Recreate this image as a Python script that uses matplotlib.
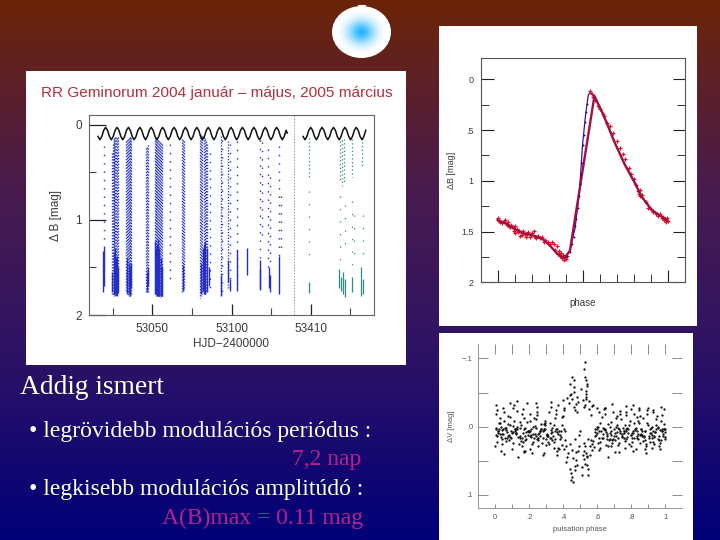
#!/usr/bin/env python3
'''RR Geminorum slide: three light curve panels on a gradient background'''
import numpy as np
import matplotlib
matplotlib.use("Agg")
import matplotlib.pyplot as plt
from matplotlib.colors import LinearSegmentedColormap
from matplotlib.patches import Ellipse, Rectangle
from matplotlib.ticker import FixedLocator, NullFormatter

W, H = 720, 540
SEASON_GAP = 260  # the 2005 part of the time axis is pulled next to 2004

# left panel: the fitted modulation wave, one list for each season
wave04_x = [53015.7, 53016.9, 53018.1, 53019.3, 53020.5, 53021.7, 53022.9, 53024.1, 53025.3, 53026.5,
            53027.7, 53028.9, 53030.1, 53031.3, 53032.5, 53033.7, 53034.9, 53036.1, 53037.3, 53038.5,
            53039.7, 53040.9, 53042.1, 53043.3, 53044.5, 53045.7, 53046.9, 53048.1, 53049.3, 53050.5,
            53051.7, 53052.9, 53054.1, 53055.3, 53056.5, 53057.7, 53058.9, 53060.1, 53061.3, 53062.5,
            53063.7, 53064.9, 53066.1, 53067.3, 53068.5, 53069.7, 53070.9, 53072.1, 53073.3, 53074.5,
            53075.7, 53076.9, 53078.1, 53079.3, 53080.5, 53081.7, 53082.9, 53084.1, 53085.3, 53086.5,
            53087.7, 53088.9, 53090.1, 53091.3, 53092.5, 53093.7, 53094.9, 53096.1, 53097.3, 53098.5,
            53099.7, 53100.9, 53102.1, 53103.3, 53104.5, 53105.7, 53106.9, 53108.1, 53109.3, 53110.5,
            53111.7, 53112.9, 53114.1, 53115.3, 53116.5, 53117.7, 53118.9, 53120.1, 53121.3, 53122.5,
            53123.7, 53124.9, 53126.1, 53127.3, 53128.5, 53129.7, 53130.9, 53132.1, 53133.3, 53134.5,
            53135.2]
wave04_y = [.125, .16, .125, .06, .03, .06, .125, .16, .125, .06,
            .03, .06, .125, .16, .125, .06, .03, .06, .125, .16,
            .125, .06, .03, .06, .125, .16, .125, .06, .03, .06,
            .125, .16, .125, .06, .03, .06, .125, .16, .125, .06,
            .03, .06, .125, .16, .125, .06, .03, .06, .125, .16,
            .125, .06, .03, .06, .125, .16, .125, .06, .03, .06,
            .125, .16, .125, .06, .03, .06, .125, .16, .125, .06,
            .03, .06, .125, .16, .125, .06, .03, .06, .125, .16,
            .125, .06, .03, .06, .125, .16, .125, .06, .03, .06,
            .125, .16, .125, .06, .03, .06, .125, .16, .125, .06,
            .09]
wave05_x = [53405.2, 53406.4, 53407.6, 53408.8, 53410.0, 53411.2, 53412.4, 53413.6, 53414.8, 53416.0,
            53417.2, 53418.4, 53419.6, 53420.8, 53422.0, 53423.2, 53424.4, 53425.6, 53426.8, 53428.0,
            53429.2, 53430.4, 53431.6, 53432.8, 53434.0, 53435.2, 53436.4, 53437.6, 53438.8, 53440.0,
            53441.2, 53442.4, 53443.6, 53444.8]
wave05_y = [.125, .16, .125, .06, .03, .06, .125, .16, .125, .06,
            .03, .06, .125, .16, .125, .06, .03, .06, .125, .16,
            .125, .06, .03, .06, .125, .16, .125, .06, .03, .06,
            .125, .16, .125, .06]

# left panel: nights of observation as vertical streaks of dots
dense04_x = [53024.6, 53025.1, 53025.6, 53026.1, 53026.6, 53027.1, 53027.6, 53028.3, 53033.5, 53034.1, 53034.6, 53035.2,
             53035.7, 53036.2, 53036.7, 53046.2, 53046.8, 53047.3, 53051.5, 53052.0, 53052.5, 53053.1, 53053.6, 53054.1,
             53054.6, 53055.4, 53056.1, 53069.0, 53069.5, 53070.0, 53080.0, 53080.8, 53081.6, 53082.4, 53083.1, 53083.8,
             53084.6, 53093.2, 53097.9]
dense04_top = [.30, .20, .15, .14, .13, .13, .14, .13, .17, .16, .15, .14, .13, .13, .14, .25, .24, .22, .13, .14, .14, .15,
               .16, .17, .18, .19, .20, .15, .16, .17, .10, .11, .12, .13, .15, .17, .20, .12, .17]
dense04_bot = [1.78, 1.79, 1.80, 1.80, 1.80, 1.79, 1.78, 1.78, 1.75, 1.78, 1.80, 1.80, 1.80, 1.79, 1.78, 1.76, 1.76, 1.76,
               1.78, 1.79, 1.80, 1.80, 1.80, 1.80, 1.81, 1.80, 1.80, 1.76, 1.75, 1.74, 1.82, 1.80, 1.78, 1.78, 1.78, 1.77,
               1.76, 1.80, 1.72]
sparse04_x = [53019.2, 53061.0, 53086.3, 53093.9, 53098.9, 53103.6, 53117.9, 53119.0, 53123.2, 53124.3, 53130.2, 53131.0]
sparse04_top = [.23, .20, .30, .16, .20, .17, .16, .18, .26, .55, .23, .75]
sparse04_bot = [1.25, 1.65, 1.75, 1.80, 1.72, 1.75, 1.40, 1.20, 1.50, 1.50, 1.40, 1.30]
solid04_x = [53018.9, 53019.5, 53024.8, 53025.5, 53026.2, 53026.8, 53027.5, 53028.0, 53033.8, 53034.2, 53035.0, 53035.7,
             53036.7, 53046.7, 53047.5, 53051.6, 53052.3, 53052.8, 53053.3, 53053.9, 53054.5, 53055.2, 53055.7, 53056.0,
             53069.4, 53080.6, 53081.0, 53082.0, 53082.8, 53083.0, 53084.4, 53085.6, 53093.2, 53098.0, 53099.2, 53103.6,
             53109.8, 53117.7, 53118.3, 53123.8, 53124.6, 53130.0]
solid04_top = [1.33, 1.28, 1.55, 1.35, 1.30, 1.40, 1.38, 1.50, 1.55, 1.40, 1.45, 1.50, 1.45, 1.55, 1.50, 1.22, 1.30, 1.25, 1.20,
               1.30, 1.35, 1.40, 1.45, 1.50, 1.48, 1.50, 1.45, 1.30, 1.25, 1.22, 1.30, 1.50, 1.58, 1.42, 1.62, 1.32,
               1.30, 1.42, 1.52, 1.50, 1.58, 1.38]
solid04_bot = [1.76, 1.70, 1.76, 1.78, 1.78, 1.79, 1.80, 1.76, 1.70, 1.78, 1.78, 1.80, 1.72, 1.76, 1.70, 1.78, 1.79, 1.80, 1.80,
               1.80, 1.80, 1.80, 1.80, 1.80, 1.75, 1.78, 1.76, 1.75, 1.78, 1.78, 1.76, 1.70, 1.80, 1.65, 1.75, 1.75,
               1.58, 1.74, 1.72, 1.72, 1.76, 1.78]
dense05_x = [53409.2, 53428.4, 53429.8, 53431.2, 53436.0, 53442.4]
dense05_top = [.14, .17, .16, .15, .15, .14]
dense05_bot = [.55, .58, .65, .60, .55, .45]
sparse05_x = [53409.2, 53428.8, 53431.8, 53436.0, 53437.2, 53442.8]
sparse05_top = [.70, .75, .85, .80, .95, .95]
sparse05_bot = [1.40, 1.45, 1.35, 1.50, 1.45, 1.40]
solid05_x = [53409.2, 53427.6, 53429.0, 53430.2, 53431.4, 53436.2, 53442.0, 53443.0]
solid05_top = [1.65, 1.52, 1.60, 1.55, 1.62, 1.60, 1.50, 1.62]
solid05_bot = [1.77, 1.72, 1.75, 1.78, 1.81, 1.76, 1.80, 1.78]

# middle panel: folded light curve
curve_phase = [0, .053, .102, .151, .2, .259, .308, .347, .392, .425, .455, .48, .5, .518, .533, .545,
               .569, .622, .69, .749, .808, .847, .906, .965, 1.0]
curve_mag = [1.386, 1.425, 1.478, 1.517, 1.534, 1.567, 1.639, 1.714, 1.764, 1.688, 1.468, 1.123, .63, .335, .154, .128,
             .164, .351, .63, .844, 1.025, 1.156, 1.287, 1.353, 1.396]
red_phase = [.002, .006, .015, .024, .036, .045, .052, .06, .064, .072, .081, .088, .094, .1, .104, .112, .118,
             .126, .13, .138, .145, .15, .158, .166, .172, .18, .188, .195, .204, .213, .22, .228, .236,
             .25, .262, .27, .28, .295, .31, .318, .33, .338, .346, .352, .358, .364, .37, .376, .382, .388, .394, .4, .41,
             .545, .552, .56, .575, .59, .6, .62, .625, .645, .66, .68, .7, .72, .735, .75, .77, .785, .8, .815,
             .825, .83, .835, .84, .85, .87, .885, .9, .915, .93, .945, .955, .965, .975, .98, .985, .99, .995, 1.0]
red_mag = [1.37, 1.40, 1.41, 1.42, 1.40, 1.39, 1.44, 1.41, 1.45, 1.46, 1.44, 1.46, 1.49, 1.45, 1.51, 1.47, 1.50,
           1.49, 1.54, 1.50, 1.53, 1.49, 1.52, 1.55, 1.52, 1.50, 1.55, 1.53, 1.51, 1.49, 1.55, 1.56, 1.54,
           1.56, 1.55, 1.60, 1.58, 1.60, 1.62, 1.60, 1.62, 1.68, 1.64, 1.72, 1.69, 1.74, 1.71, 1.76, 1.73, 1.78, 1.75, 1.77, 1.74,
           .12, .14, .17, .20, .26, .29, .34, .36, .43, .46, .53, .61, .68, .74, .79, .87, .93, .98, 1.04,
           1.10, 1.13, 1.09, 1.15, 1.14, 1.21, 1.27, 1.28, 1.31, 1.33, 1.35, 1.33, 1.37, 1.36, 1.39, 1.38, 1.41, 1.37, 1.40]
rise_phase = [.41, .425, .44, .448, .455, .462, .47, .478, .484, .49, .496, .502, .508, .514, .52, .526]
rise_mag = [1.74, 1.70, 1.62, 1.55, 1.45, 1.38, 1.27, 1.15, 1.03, .93, .82, .65, .55, .42, .32, .24]

# right panel: colour residuals, twelve points on each row
res_phase = [
    .003, .031, .012, .024, .007, .036, .019, .001, .028, .015, .039, .009,
    .042, .071, .051, .064, .047, .076, .059, .041, .068, .055, .079, .049,
    .083, .111, .092, .104, .087, .116, .099, .081, .108, .095, .119, .089,
    .123, .151, .132, .144, .127, .156, .139, .121, .148, .135, .159, .129,
    .162, .191, .172, .184, .167, .196, .179, .161, .188, .175, .199, .169,
    .203, .231, .212, .224, .207, .236, .219, .201, .228, .215, .239, .209,
    .242, .271, .251, .264, .247, .276, .259, .241, .268, .255, .279, .249,
    .283, .311, .292, .304, .287, .316, .299, .281, .308, .295, .319, .289,
    .323, .351, .332, .344, .327, .356, .339, .321, .348, .335, .359, .329,
    .362, .391, .372, .384, .367, .396, .379, .361, .388, .375, .399, .369,
    .403, .421, .412, .424, .407, .436, .419, .401, .428, .415, .439, .409,
    .442, .461, .451, .464, .447, .476, .459, .441, .468, .455, .479, .449,
    .472, .453, .466, .475, .458, .462, .446, .471, .478, .452, .443, .469,
    .483, .511, .492, .504, .487, .516, .499, .481, .508, .495, .519, .489,
    .523, .541, .532, .544, .527, .536, .539, .521, .548, .535, .529, .525,
    .528, .533, .522, .538, .526, .543, .531, .537, .524, .546, .534, .542,
    .552, .571, .561, .574, .557, .586, .569, .551, .578, .565, .589, .559,
    .593, .611, .602, .624, .597, .636, .619, .601, .628, .615, .639, .609,
    .643, .661, .652, .674, .647, .666, .659, .641, .668, .655, .679, .649,
    .682, .711, .692, .704, .687, .716, .699, .681, .708, .695, .719, .689,
    .723, .751, .732, .744, .727, .756, .739, .721, .748, .735, .759, .729,
    .762, .791, .772, .784, .767, .796, .779, .761, .788, .775, .799, .769,
    .803, .831, .812, .824, .807, .836, .819, .801, .828, .815, .839, .809,
    .842, .871, .851, .864, .847, .876, .859, .841, .868, .855, .879, .849,
    .883, .911, .892, .904, .887, .916, .899, .881, .908, .895, .919, .889,
    .923, .951, .932, .944, .927, .956, .939, .921, .948, .935, .959, .929,
    .962, .981, .972, .984, .967, .996, .979, .961, .988, .975, .999, .969,
    .004, .105, .206, .307, .408, .609, .71, .811, .912, .993, .252, .757,
    .018, .121, .223, .328, .634, .733, .835, .937, .978, .164, .295, .866,
    .027, .062, .146, .182, .264, .352, .596, .673, .772, .853, .928, .992,
    .011, .034, .056, .078, .097, .118, .137, .153, .174, .193, .214, .233,
    .254, .273, .293, .314, .334, .354, .373, .393, .586, .604, .626, .647,
    .664, .683, .703, .724, .743, .764, .783, .804, .824, .844, .864, .883,
    .903, .924, .943, .964, .983, .996, .021, .043, .066, .086, .106, .126,
    .146, .168, .186, .208, .226, .246, .266, .286, .306, .326, .346, .366,
    .386, .596, .616, .636, .656, .676, .696, .716, .736, .756, .776, .796,
    .816, .836, .856, .876, .896, .916, .936, .956, .976, .991, .998, .006,
    .008, .048, .088, .128, .168, .208, .248, .288, .328, .368, .408, .568,
    .608, .648, .688, .728, .768, .808, .848, .888, .928, .968, .994, .038,
    .052, .113, .177, .239, .302, .364, .583, .644, .706, .768, .829, .891,
]
res_dv = [
    .012, -.006, .022, .004, -.018, .015, .009, .028, -.012, .006, .018, -.024,
    .005, .016, -.008, .021, .011, -.016, .002, .026, .008, -.021, .013, .003,
    .019, -.009, .007, .024, -.014, .003, .033, .012, -.028, .016, .006, -.002,
    .009, .021, -.038, .014, .004, -.018, .026, .011, -.007, .044, .017, .001,
    .023, .006, -.012, .018, -.026, .012, .002, .029, -.034, .014, .008, .037,
    -.008, .017, .004, .022, -.019, .011, .038, .007, -.013, .025, .002, .015,
    .013, -.004, .019, .006, -.017, .024, .009, -.011, .003, .028, .016, -.022,
    .007, .022, -.009, .014, .003, -.021, .018, .041, .011, -.003, .026, .005,
    .016, -.012, .008, .023, -.029, .004, .013, -.006, .031, .019, -.018, .009,
    .003, .027, -.031, .012, .036, -.014, .018, -.025, .006, .032, -.039, .011,
    -.028, .045, .019, -.042, .033, -.035, .052, -.016, .039, .028, -.047, .007,
    .062, -.051, .034, -.058, .068, -.033, .046, -.062, .018, -.041, .056, .078,
    -.024, .073, -.068, .049, .081, -.029, -.048, .064, .037, -.072, .026, .058,
    -.044, .059, .028, -.055, -.036, .042, .006, -.022, .071, .012, -.039, .035,
    -.085, .045, -.052, .062, -.095, .038, -.063, .024, .071, -.041, .054, -.029,
    -.072, -.048, .036, .056, -.031, -.059, .028, -.044, .048, .018, -.068, .043,
    -.026, .034, .019, -.032, .041, .008, .026, -.038, .021, -.017, .004, .029,
    .012, -.021, .024, .006, -.028, .017, .031, .009, -.014, .022, .003, .016,
    -.019, .029, .008, .018, .004, .044, .011, -.026, .019, .014, -.007, .027,
    .006, -.012, .018, .009, .024, -.016, .003, .029, .014, -.021, .008, .019,
    .016, .002, -.018, .011, .024, .006, -.011, .027, .013, -.023, .009, .004,
    .021, -.009, .007, .026, -.017, .012, .003, .031, -.003, .015, -.026, .018,
    .009, .014, -.031, .005, .022, -.014, .017, .028, .002, -.019, .011, .006,
    .018, -.012, .024, .007, -.024, .015, .004, -.009, .021, .011, .032, -.016,
    .006, .023, -.018, .014, .029, .002, -.027, .019, .009, -.006, .017, .025,
    .012, -.015, .026, .004, -.021, .018, .008, .031, -.011, .013, .002, .023,
    .019, .007, -.029, .013, .024, .003, -.017, .028, .011, -.008, .015, .005,
    .002, .008, .006, .012, .004, .007, .001, .009, .004, .003, .011, .006,
    .007, .003, .011, .005, .002, .01, .006, .008, .003, .009, .004, .012,
    .011, .005, .002, .008, .013, .006, .001, .009, .004, .012, .007, .003,
    .014, .001, .017, -.004, .010, .003, .015, -.002, .019, .006, .012, -.001,
    .016, .004, -.005, .013, .002, .018, .007, -.003, .014, .001, .016, .005,
    -.004, .012, .019, .002, .015, -.002, .009, .017, .003, -.005, .013, .006,
    .016, .001, -.003, .014, .007, .018, -.006, .011, .002, .015, -.001, .009,
    .016, .004, -.007, .013, .001, .018, .006, -.004, .012, .017, -.002, .008,
    .015, .003, -.006, .011, .018, .001, .014, -.003, .007, .016, .002, .012,
    -.005, .017, .004, .013, -.002, .009, .015, .001, .019, -.004, .008, .003,
    -.032, -.027, -.035, -.023, .036, .033, -.029, .038, -.036, .031, -.024, -.03,
    .034, -.027, -.033, .037, -.022, .035, -.028, .039, -.025, .032, -.026, .036,
    .04, -.031, .035, -.034, .027, .042, .03, -.028, .037, -.03, .033, -.024,
]

# slide text
HEAD = "Addig ismert"
LINE1 = "• legrövidebb modulációs periódus :"
VALUE1 = "7,2 nap"
LINE2 = "• legkisebb modulációs amplitúdó :"
VALUE2 = "A(B)max = 0.11 mag"
TITLE = "RR Geminorum 2004 január – május, 2005 március"

CREAM = "#fffff0"
PINK = "#b8208a"
BLUE = "#2430c4"
TEAL = "#2c8c86"
INK = "#3a3a3a"
SANS = "Liberation Sans"
SERIF = "Liberation Serif"


def panel(fig, left, top, right, bottom):
    '''Axes placed by picture pixels'''
    return fig.add_axes([left / W, 1 - bottom / H, (right - left) / W, (bottom - top) / H],
                        facecolor="none")


def streaks(ax, xs, tops, bots, colour, style, lw):
    ax.vlines(xs, tops, bots, colors=colour, linestyles=style, linewidth=lw)


fig = plt.figure(figsize=(W / 100, H / 100), dpi=100)

# background layer in picture pixels
bg = fig.add_axes([0, 0, 1, 1])
bg.set_xlim(0, W)
bg.set_ylim(H, 0)
bg.axis("off")
slide = LinearSegmentedColormap.from_list("slide", ["#6c2408", "#4a1c4c", "#2c1266", "#000078"])
bg.imshow(np.linspace(0, 1, 256)[:, None], cmap=slide, extent=(0, W, H, 0), aspect="auto", zorder=0)
bg.set_xlim(0, W)
bg.set_ylim(H, 0)

for x0, y0, x1, y1 in [(26, 71, 406, 365), (439, 26, 697, 326), (439, 333, 693, 540)]:
    bg.add_patch(Rectangle((x0, y0), x1 - x0, y1 - y0, facecolor="white", edgecolor="none", zorder=1))

# the glowing ball above the first panel
ball_scale = [1.0, .8, .7, .6, .52, .44, .37, .3, .24, .18, .12, .07]
ball_cols = ["#ffffff", "#f6fcff", "#e6f7ff", "#d2f0ff", "#bce9ff", "#a2e0ff",
             "#86d7ff", "#6ccfff", "#54c7ff", "#40c0ff", "#30baff", "#26b6ff"]
for sc, col in zip(ball_scale, ball_cols):
    bg.add_patch(Ellipse((361.5, 32), 59 * sc, 52 * sc, facecolor=col, edgecolor="none", zorder=2))
bg.plot([358, 365], [4.5, 4.5], color="white", lw=.8, zorder=2)

bg.text(20, 388, HEAD, family=SERIF, fontsize=19.8, color=CREAM, va="center", ha="left")
bg.text(29, 432, LINE1, family=SERIF, fontsize=17, color=CREAM, va="center", ha="left")
bg.text(361, 460, VALUE1, family=SERIF, fontsize=17, color=PINK, va="center", ha="right")
bg.text(29, 489, LINE2, family=SERIF, fontsize=17, color=CREAM, va="center", ha="left")
bg.text(363, 518, VALUE2, family=SERIF, fontsize=17, color=PINK, va="center", ha="right")
bg.text(216.5, 93, TITLE, family=SANS, fontsize=11.1, color="#b4303e", va="center", ha="center")

# left panel
ax = panel(fig, 89, 115, 374, 315)
ax.set_xlim(53010, 53190)
ax.set_ylim(2, -0.1)
streaks(ax, dense04_x, dense04_top, dense04_bot, BLUE, (0, (.9, 1.2)), 1.0)
streaks(ax, sparse04_x, sparse04_top, sparse04_bot, BLUE, (0, (1, 5)), 1.0)
streaks(ax, solid04_x, solid04_top, solid04_bot, BLUE, "-", 1.0)
streaks(ax, np.array(dense05_x) - SEASON_GAP, dense05_top, dense05_bot, TEAL, (0, (1, 2)), .9)
streaks(ax, np.array(sparse05_x) - SEASON_GAP, sparse05_top, sparse05_bot, TEAL, (0, (1, 9)), .9)
streaks(ax, np.array(solid05_x) - SEASON_GAP, solid05_top, solid05_bot, TEAL, "-", .9)
ax.plot(wave04_x, wave04_y, color="#111111", lw=1.1)
ax.plot(np.array(wave05_x) - SEASON_GAP, wave05_y, color="#111111", lw=1.1)
ax.axvline(53139.7, color="#999999", lw=.7, ls=(0, (1.5, 1.5)))
ax.set_xticks([53050, 53100, 53410 - SEASON_GAP], labels=["53050", "53100", "53410"])
ax.xaxis.set_minor_locator(FixedLocator([53025, 53075, 53125, 53435 - SEASON_GAP]))
ax.set_yticks([0, 1, 2], labels=["0", "1", "2"])
ax.yaxis.set_minor_locator(FixedLocator([.5, 1.5]))
ax.tick_params(which="major", direction="in", length=8, width=.9, color="#222222",
               labelsize=8.5, labelcolor=INK, pad=6)
ax.tick_params(which="minor", direction="in", length=5, width=.8, color="#444444")
ax.tick_params(axis="y", which="major", length=12, pad=5)
ax.set_xlabel("HJD−2400000", fontsize=8.5, color=INK, family=SANS, labelpad=2)
ax.set_ylabel("Δ B [mag]", fontsize=8.5, color=INK, family=SANS, labelpad=10)
for side in ax.spines.values():
    side.set_color("#666666")
    side.set_linewidth(.8)
for lab in ax.get_xticklabels() + ax.get_yticklabels():
    lab.set_family(SANS)

# middle panel
ax = panel(fig, 480.7, 58.3, 685, 282.3)
ax.set_xlim(-0.1, 1.102)
ax.set_ylim(2, -0.207)
ax.plot(curve_phase, curve_mag, color="#3a10a0", lw=.9, zorder=2)
ax.plot(red_phase, red_mag, ls="none", marker="+", ms=3, mew=.9, color="#e01028", zorder=3)
ax.plot(curve_phase[:10] + curve_phase[16:], curve_mag[:10] + curve_mag[16:], color="#a01040", lw=1.7, zorder=4)
ax.plot(rise_phase, rise_mag, ls="none", marker="+", ms=2, mew=.7, color="#301080", zorder=4)
ax.set_xticks([0, .5, 1], labels=[])
ax.xaxis.set_minor_locator(FixedLocator([.1, .2, .3, .4, .6, .7, .8, .9]))
ax.xaxis.set_minor_formatter(NullFormatter())
ax.set_yticks([0, .5, 1, 1.5, 2], labels=["0", ".5", "1", "1.5", "2"])
ax.yaxis.set_minor_locator(FixedLocator([.25, .75, 1.25, 1.75]))
ax.tick_params(which="major", direction="in", length=9, width=.8, color="#222222",
               left=True, right=True, labelsize=6.5, labelcolor=INK, pad=5)
ax.tick_params(which="minor", direction="in", length=6, width=.7, color="#333333", left=True, right=True)
ax.set_xlabel("phase", fontsize=7, color=INK, family=SANS, labelpad=6)
ax.set_ylabel("ΔB [mag]", fontsize=6.5, color=INK, family=SANS, labelpad=4)
for side in ax.spines.values():
    side.set_color("#555555")
    side.set_linewidth(.8)
for lab in ax.get_yticklabels():
    lab.set_family(SANS)

# right panel
ax = panel(fig, 478.3, 344, 682, 508.3)
ax.set_xlim(-0.098, 1.098)
ax.set_ylim(.1195, -.121)
ax.scatter(res_phase, res_dv, s=2.8, color="#151515", linewidths=0)
ax.set_xticks([0, .2, .4, .6, .8, 1], labels=["0", ".2", ".4", ".6", ".8", "1"])
ax.xaxis.set_minor_locator(FixedLocator([.1, .3, .5, .7, .9]))
ax.set_yticks([-.1, 0, .1], labels=["−.1", "0", ".1"])
ax.yaxis.set_minor_locator(FixedLocator([-.05, .05]))
ax.tick_params(which="both", direction="in", length=7, width=.6, color="#777777", top=True, right=True,
               labelsize=5.5, labelcolor="#555555", pad=4)
ax.tick_params(axis="x", which="both", length=3)
for tick in ax.xaxis.get_major_ticks() + ax.xaxis.get_minor_ticks():
    tick.tick2line.set_markersize(7)
ax.set_xlabel("pulsation phase", fontsize=5.5, color="#555555", family=SANS, labelpad=4)
ax.set_ylabel("ΔV [mag]", fontsize=5.5, color="#555555", family=SANS, labelpad=5)
for name in ["top", "right"]:
    ax.spines[name].set_visible(False)
for name in ["left", "bottom"]:
    ax.spines[name].set_color("#888888")
    ax.spines[name].set_linewidth(.6)
for lab in ax.get_xticklabels() + ax.get_yticklabels():
    lab.set_family(SANS)

fig.savefig("out.png", dpi=100)
